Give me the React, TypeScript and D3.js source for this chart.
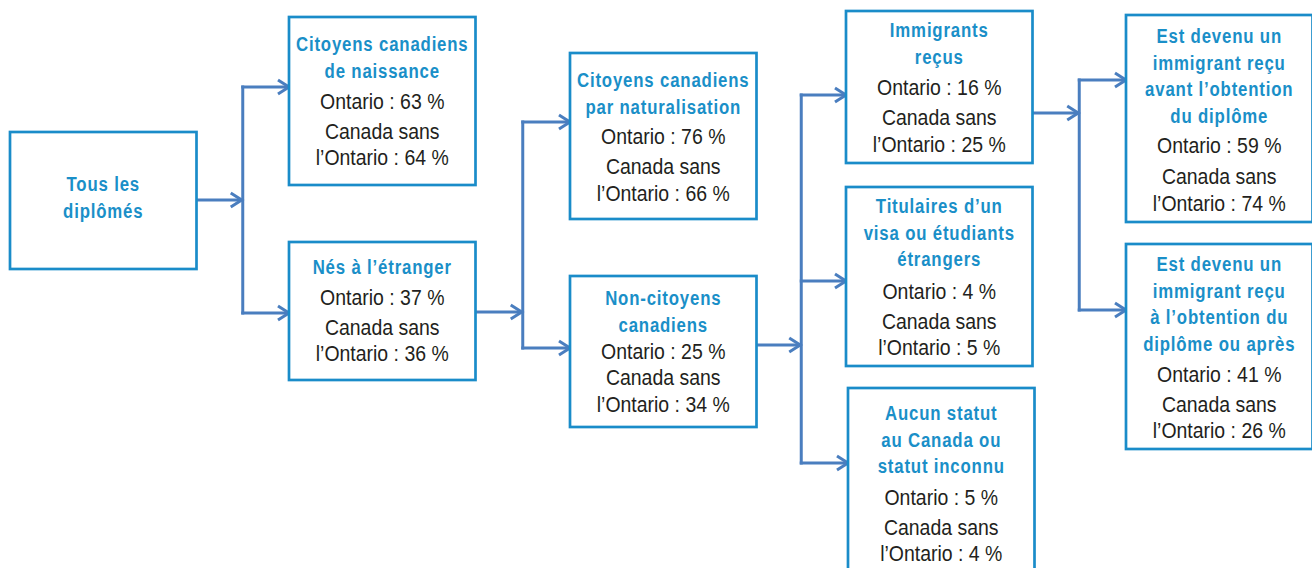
import React from "react";
import * as d3 from "d3";

// ---- Data ----
const nodeTitles: string[][] = [
  ["Tous les", "diplômés"],
  ["Citoyens canadiens", "de naissance"],
  ["Nés à l’étranger"],
  ["Citoyens canadiens", "par naturalisation"],
  ["Non-citoyens", "canadiens"],
  ["Immigrants", "reçus"],
  ["Titulaires d’un", "visa ou étudiants", "étrangers"],
  ["Aucun statut", "au Canada ou", "statut inconnu"],
  ["Est devenu un", "immigrant reçu", "avant l’obtention", "du diplôme"],
  ["Est devenu un", "immigrant reçu", "à l’obtention du", "diplôme ou après"],
];
const ontarioPct: (number | null)[] = [null, 63, 37, 76, 25, 16, 4, 5, 59, 41];
const restOfCanadaPct: (number | null)[] = [null, 64, 36, 66, 34, 25, 5, 4, 74, 26];
const parentOf: (number | null)[] = [null, 0, 0, 2, 2, 4, 4, 4, 5, 5];

// ---- Layout (not data) ----
const layout = [
  { col: 0, dx: 0, top: 132, bottom: 269, first: 52, steps: [0, 0, 0], inY: 0, outY: 200 },
  { col: 1, dx: 0, top: 17, bottom: 185, first: 27, steps: [31, 30, 26], inY: 87, outY: 0 },
  { col: 1, dx: 0, top: 242, bottom: 380, first: 25, steps: [30, 30, 26], inY: 313, outY: 312 },
  { col: 2, dx: 0, top: 53, bottom: 219, first: 27, steps: [30, 30, 27], inY: 122, outY: 0 },
  { col: 2, dx: 0, top: 276, bottom: 427, first: 22, steps: [27, 26, 27], inY: 348, outY: 345 },
  { col: 3, dx: 0, top: 11, bottom: 163, first: 19, steps: [31, 30, 27], inY: 95, outY: 113 },
  { col: 3, dx: 0, top: 187, bottom: 366, first: 19, steps: [32, 30, 26], inY: 281, outY: 0 },
  { col: 3, dx: 2, top: 388, bottom: 580, first: 25, steps: [31, 30, 26], inY: 463, outY: 0 },
  { col: 4, dx: 0, top: 15, bottom: 222, first: 21, steps: [30, 31, 27], inY: 80, outY: 0 },
  { col: 4, dx: 0, top: 244, bottom: 449, first: 20, steps: [31, 30, 26], inY: 310, outY: 0 },
];
const titleStep = 26.5;

const W = 1312, H = 568;
const BOX_W = 186.5;
const xScale = d3.scaleLinear().domain([0, 1, 2, 3, 4]).range([10, 289, 570, 846, 1126]);

const BORDER = "#1a8cc9";
const ARROW = "#4a7ebf";
const TITLE = "#1a8fc8";
const TEXT = "#231f20";
const FONT = "'Liberation Sans', Arial, sans-serif";

function Arrow({ x1, x2, y }: { x1: number; x2: number; y: number }) {
  const p = d3.path();
  p.moveTo(x1, y);
  p.lineTo(x2 - 1.5, y);
  const head = d3.path();
  head.moveTo(x2 - 12, y - 7);
  head.lineTo(x2 - 1, y);
  head.lineTo(x2 - 12, y + 7);
  return (
    <g>
      <path d={p.toString()} stroke={ARROW} strokeWidth={3} fill="none" />
      <path d={head.toString()} stroke={ARROW} strokeWidth={3} fill="none" strokeLinejoin="miter" />
    </g>
  );
}

export default function App() {
  const pct = (v: number) => `${v}\u00a0%`;
  const boxX = (i: number) => xScale(layout[i].col) + layout[i].dx;
  const connectors: React.ReactNode[] = [];
  const parents = Array.from(new Set(parentOf.filter((p) => p !== null))) as number[];
  parents.forEach((p) => {
    const pl = layout[p];
    const px = boxX(p) + BOX_W;
    const busX = (px + xScale(pl.col + 1)) / 2;
    const kids = parentOf.map((q, i) => (q === p ? i : -1)).filter((i) => i >= 0);
    const ys = kids.map((k) => layout[k].inY);
    const yMin = d3.min(ys)!, yMax = d3.max(ys)!;
    connectors.push(
      <g key={"c" + p}>
        <Arrow x1={px} x2={busX} y={pl.outY} />
        <line x1={busX} x2={busX} y1={yMin - 1.5} y2={yMax + 1.5} stroke={ARROW} strokeWidth={3} />
        {kids.map((k) => (
          <Arrow key={k} x1={busX - 1.5} x2={boxX(k) + 1} y={layout[k].inY} />
        ))}
      </g>
    );
  });

  return (
    <svg width={W} height={H} style={{ position: "absolute", left: 0, top: 0 }} fontFamily={FONT}>
      <rect width={W} height={H} fill="#fff" />
      {connectors}
      {nodeTitles.map((lines, i) => {
        const l = layout[i];
        const x = boxX(i);
        const cx = x + BOX_W / 2;
        const texts: { t: string; y: number; title: boolean }[] = [];
        let y = l.top + l.first;
        lines.forEach((t, j) => {
          if (j > 0) y += titleStep;
          texts.push({ t, y, title: true });
        });
        const o = ontarioPct[i], c = restOfCanadaPct[i];
        if (o !== null && c !== null) {
          y += l.steps[0];
          texts.push({ t: `Ontario : ${pct(o)}`, y, title: false });
          y += l.steps[1];
          texts.push({ t: "Canada sans", y, title: false });
          y += l.steps[2];
          texts.push({ t: `l’Ontario : ${pct(c)}`, y, title: false });
        }
        return (
          <g key={i}>
            <rect x={x} y={l.top} width={BOX_W} height={l.bottom - l.top} fill="#fff" stroke={BORDER} strokeWidth={2.7} />
            {texts.map((tt, k) => (
              <text
                key={k}
                transform={`translate(${cx},${tt.y}) scale(${tt.title ? 0.82 : 0.905},1)`}
                dy="0.36em"
                textAnchor="middle"
                fontSize={tt.title ? 20.5 : 21.5}
                fontWeight={tt.title ? 700 : 400}
                letterSpacing={tt.title ? 1 : 0}
                fill={tt.title ? TITLE : TEXT}
              >
                {tt.t}
              </text>
            ))}
          </g>
        );
      })}
    </svg>
  );
}
